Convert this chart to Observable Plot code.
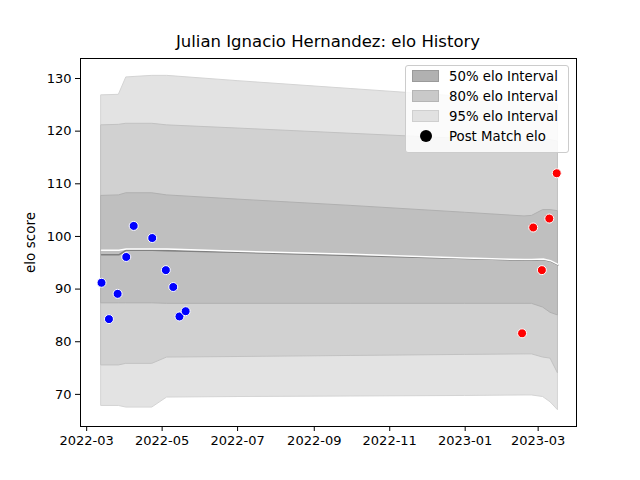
<!DOCTYPE html>
<html><head><meta charset="utf-8">
<script src="https://cdn.jsdelivr.net/npm/d3@7"></script>
<script src="https://cdn.jsdelivr.net/npm/@observablehq/plot@0.6"></script>
<style>
body{margin:0;background:#fff;font-family:"DejaVu Sans",sans-serif;}
#wrap{position:relative;width:640px;height:480px;}
#title{position:absolute;top:32px;left:80px;width:496px;text-align:center;font-size:16.5px;}
#chart{position:absolute;top:40px;left:0;}
#legend{position:absolute;left:405px;top:65px;width:162px;height:86px;border:1px solid #ccc;border-radius:3px;background:rgba(255,255,255,0.85);font-size:13.3px;}
.row{position:absolute;left:6px;height:18px;line-height:18px;}
.sw{display:inline-block;width:27px;height:12px;vertical-align:-1px;margin-right:10px;box-sizing:border-box;}
#chart svg g[aria-label="y-axis label"] text{font-size:13.5px;}
</style></head><body>
<div id="wrap"><div id="title">Julian Ignacio Hernandez: elo History</div><div id="chart"></div>
<div id="legend">
<div class="row" style="top:2px"><span class="sw" style="background:#b1b1b1;border:1px solid #9a9a9a"></span>50% elo Interval</div>
<div class="row" style="top:22px"><span class="sw" style="background:#c9c9c9;border:1px solid #b5b5b5"></span>80% elo Interval</div>
<div class="row" style="top:42px"><span class="sw" style="background:#e1e1e1;border:1px solid #cfcfcf"></span>95% elo Interval</div>
<div class="row" style="top:62px"><span style="display:inline-block;width:27px;text-align:center;margin-right:10px"><span style="display:inline-block;width:12px;height:12px;border-radius:6px;background:#000;vertical-align:-1px"></span></span>Post Match elo</div>
</div></div>
<script>
const bandDates = ["2022-03-13","2022-03-27","2022-04-02","2022-04-23","2022-05-05","2022-07-01","2022-10-01","2023-01-01","2023-02-18","2023-02-24","2023-03-05","2023-03-11","2023-03-17"];
const lo95 = [67.8,67.8,67.5,67.5,69.4,69.5,69.6,69.7,69.8,69.8,69.5,68.5,67];
const lo80 = [75.5,75.5,75.8,75.8,77,77.1,77.3,77.5,77.6,77.6,77,76.8,74];
const lo50 = [87.3,87.3,87.3,87.3,87.2,87.2,87.2,87.2,87.2,87.2,86.5,85.5,85];
const midLine = [96.5,96.5,97.4,97.4,97.3,97,96.4,95.8,95.5,95.5,95.6,95.3,94.6];
const meanLine = [97.4,97.4,97.6,97.6,97.6,97.2,96.6,95.9,95.6,95.6,95.7,95.4,94.7];
const hi50 = [107.7,107.8,108.2,108.2,107.8,107,105.8,104.5,103.8,103.9,105,105,104.8];
const hi80 = [121.1,121.2,121.4,121.4,121.1,120.5,119.5,118.5,118,118,118.3,118.3,118];
const hi95 = [126.8,126.9,130.2,130.5,130.5,129.5,128,126.5,125.5,125.5,125.6,125.6,125];
const matchDates = ["2022-03-13","2022-03-19","2022-03-26","2022-04-02","2022-04-08","2022-04-23","2022-05-04","2022-05-10","2022-05-15","2022-05-20","2023-02-16","2023-02-25","2023-03-04","2023-03-10","2023-03-16"];
const matchElo = [91.2,84.3,89.1,96.1,102,99.7,93.6,90.4,84.8,85.8,81.6,101.7,93.6,103.4,112];
const matchGroup = ["2022","2022","2022","2022","2022","2022","2022","2022","2022","2022","2023","2023","2023","2023","2023"];
const xTicks = ["2022-03-01","2022-05-01","2022-07-01","2022-09-01","2022-11-01","2023-01-01","2023-03-01"];
const yTicks = [70,80,90,100,110,120,130];

const P = d3.utcParse("%Y-%m-%d");
const band = bandDates.map((d,i)=>({date:P(d),lo95:lo95[i],lo80:lo80[i],lo50:lo50[i],mid:midLine[i],mean:meanLine[i],hi50:hi50[i],hi80:hi80[i],hi95:hi95[i]}));
const pts = matchDates.map((d,i)=>({date:P(d),elo:matchElo[i],g:matchGroup[i]}));

const chart = Plot.plot({
  width:640,height:440,marginLeft:80,marginRight:64,marginTop:18,marginBottom:54,
  style:{fontFamily:"DejaVu Sans",fontSize:"13px",color:"#000"},
  x:{type:"utc",domain:[P("2022-02-24"),P("2023-04-01")],ticks:xTicks.map(P),tickFormat:d3.utcFormat("%Y-%m"),label:null,tickSize:5},
  y:{domain:[63.9,133.8],ticks:yTicks,label:"elo score",labelAnchor:"center",labelArrow:"none",labelOffset:55,tickSize:5},
  marks:[
    Plot.areaY(band,{x:"date",y1:"lo95",y2:"hi95",fill:"#e3e3e3",stroke:"#d4d4d4",strokeWidth:1}),
    Plot.areaY(band,{x:"date",y1:"lo80",y2:"hi80",fill:"#d1d1d1",stroke:"#c2c2c2",strokeWidth:1}),
    Plot.areaY(band,{x:"date",y1:"lo50",y2:"hi50",fill:"#bfbfbf",stroke:"#b0b0b0",strokeWidth:1}),
    Plot.lineY(band,{x:"date",y:"mid",stroke:"#808080",strokeWidth:1.5}),
    Plot.lineY(band,{x:"date",y:"mean",stroke:"#fff",strokeWidth:1.5}),
    Plot.dot(pts,{x:"date",y:"elo",r:4.5,fill:d=>d.g==="2022"?"#0000ff":"#ff0000",stroke:"#fff",strokeWidth:1}),
    Plot.frame({stroke:"#000"})
  ]
});
document.getElementById("chart").append(chart);
</script></body></html>
